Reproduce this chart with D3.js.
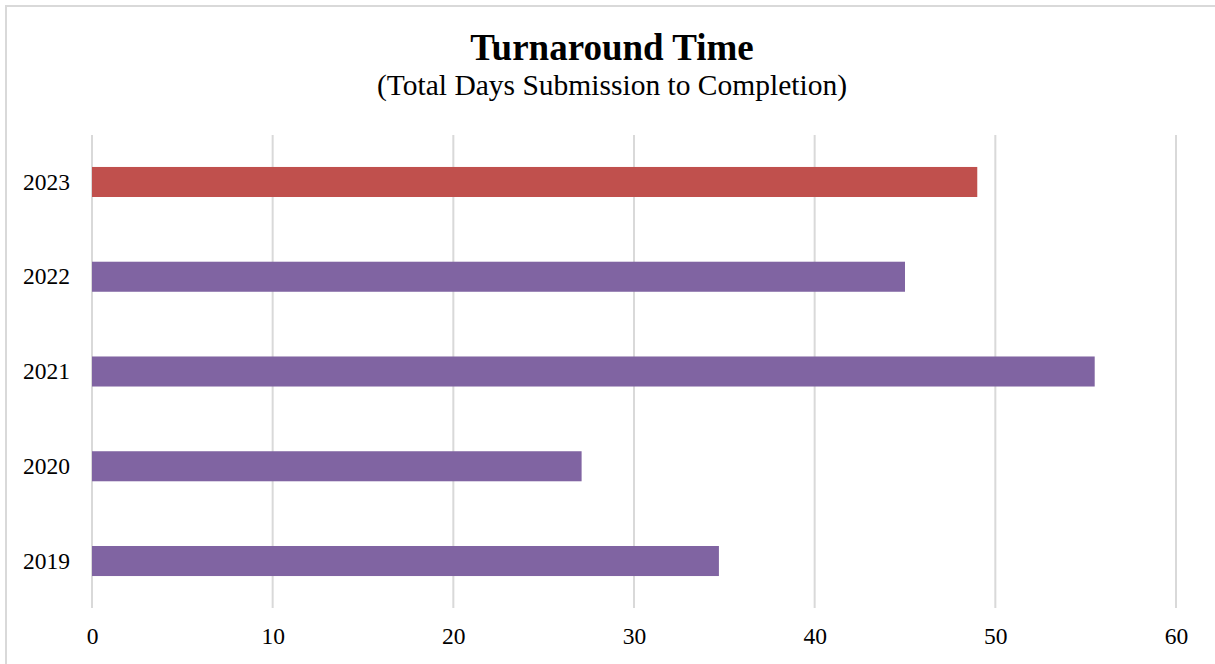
<!DOCTYPE html>
<html><head><meta charset="utf-8">
<script src="https://cdn.jsdelivr.net/npm/d3@7"></script>
<style>body{margin:0;background:#fff}svg{display:block}</style>
</head><body>
<script>
const categories = ["2019","2020","2021","2022","2023"];
const values = [34.7, 27.1, 55.5, 45.0, 49.0];
const barColors = ["#8064a2","#8064a2","#8064a2","#8064a2","#c0504d"];
const xTicks = [0,10,20,30,40,50,60];
const title = "Turnaround Time";
const subtitle = "(Total Days Submission to Completion)";

const W = 1215, H = 664;
const svg = d3.select("body").append("svg").attr("width", W).attr("height", H);
svg.append("rect").attr("x",6).attr("y",6).attr("width",W+10).attr("height",H+10)
  .attr("fill","#fff").attr("stroke","#d9d9d9").attr("stroke-width",2);

const font = "'Liberation Serif','Times New Roman',serif";
svg.append("text").attr("x",612).attr("y",60).attr("text-anchor","middle")
  .attr("font-family",font).attr("font-weight","bold").attr("font-size",37).text(title);
svg.append("text").attr("x",612).attr("y",95).attr("text-anchor","middle")
  .attr("font-family",font).attr("font-size",29.5).text(subtitle);

const x = d3.scaleLinear().domain([0,60]).range([92,1176]);
const y = d3.scaleBand().domain(categories.slice().reverse()).range([134.6,608.4]).paddingInner(0.683).paddingOuter(0.3415);

svg.append("g").selectAll("line").data(xTicks).join("line")
  .attr("x1",d=>x(d)).attr("x2",d=>x(d)).attr("y1",135).attr("y2",608)
  .attr("stroke","#d9d9d9").attr("stroke-width",2);

svg.append("g").selectAll("rect").data(categories).join("rect")
  .attr("x",x(0)).attr("y",d=>y(d))
  .attr("width",(d,i)=>x(values[i])-x(0)).attr("height",y.bandwidth())
  .attr("fill",(d,i)=>barColors[i]);

const xAxis = d3.axisBottom(x).tickValues(xTicks).tickSize(0).tickPadding(0);
const gx = svg.append("g").attr("transform","translate(0,644)").call(xAxis);
gx.select(".domain").remove();
gx.selectAll("text").attr("font-family",font).attr("font-size",23.5).attr("fill","#000").attr("dy",0);

const yAxis = d3.axisLeft(y).tickSize(0).tickPadding(0);
const gy = svg.append("g").attr("transform","translate(70,0)").call(yAxis);
gy.select(".domain").remove();
gy.selectAll("text").attr("font-family",font).attr("font-size",23.5).attr("fill","#000");
</script>
</body></html>
